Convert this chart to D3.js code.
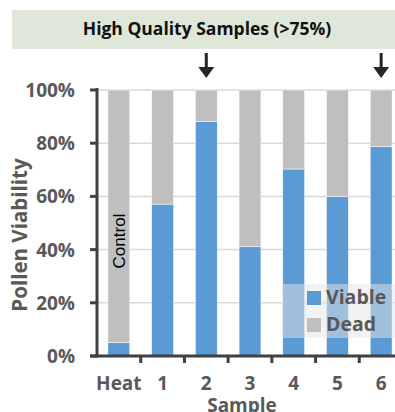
<!DOCTYPE html>
<html>
<head>
  <meta charset="UTF-8">
  <style>
body {
    margin: 0;
    padding: 0;
    background-color: white;
}
svg {
    display: block;
}
  </style>
</head>
<body>
<svg></svg>

<script src="https://d3js.org/d3.v7.min.js"></script>
<script>

let width = 395, height = 412;

// chart data
const samples = ["Heat", "1", "2", "3", "4", "5", "6"];
const viable = [0.05, 0.571, 0.881, 0.411, 0.703, 0.599, 0.787];
const dead = [0.95, 0.429, 0.119, 0.589, 0.297, 0.401, 0.213];
const yTicks = [0, 0.2, 0.4, 0.6, 0.8, 1.0];
const highQuality = ["2", "6"];
const legendItems = ["Viable", "Dead"];

const blue = "#5b9bd5", grey = "#bfbfbf", textGrey = "#595959", axisDark = "#404040";

let svg = d3.select("svg")
    .attr("width", width)
    .attr("height", height);

let x = d3.scaleBand()
    .domain(samples)
    .range([97, 403])
    .paddingInner(0.5)
    .paddingOuter(0.25);

let y = d3.scaleLinear()
    .domain([0, 1])
    .range([356, 90]);

// title banner
svg.append("rect")
    .attr("x", 12)
    .attr("y", 10)
    .attr("width", width)
    .attr("height", 39)
    .attr("fill", "#dfe8d8");

svg.append("text")
    .attr("x", 207)
    .attr("y", 35)
    .attr("text-anchor", "middle")
    .attr("font-family", "Open Sans")
    .attr("font-weight", "bold")
    .attr("font-size", "17.5px")
    .attr("fill", "#111")
    .text("High Quality Samples (>75%)");

// gridlines
svg.append("g")
  .selectAll("line")
  .data(yTicks.slice(1))
  .enter()
  .append("line")
  .attr("x1", 97)
  .attr("x2", width)
  .attr("y1", d => y(d))
  .attr("y2", d => y(d))
  .attr("stroke", "#d9d9d9")
  .attr("stroke-width", 1.5);

// stacked bars
let stacked = samples.map((s, i) => ({ name: s, viable: viable[i], dead: dead[i] }));

let bars = svg.append("g");

bars.selectAll(".viable")
  .data(stacked)
  .enter()
  .append("rect")
  .attr("class", "viable")
  .attr("x", d => x(d.name))
  .attr("width", x.bandwidth())
  .attr("y", d => y(d.viable))
  .attr("height", d => y(0) - y(d.viable))
  .attr("fill", blue)
  .attr("stroke", "white")
  .attr("stroke-width", 0.5);

bars.selectAll(".dead")
  .data(stacked)
  .enter()
  .append("rect")
  .attr("class", "dead")
  .attr("x", d => x(d.name))
  .attr("width", x.bandwidth())
  .attr("y", d => y(d.viable + d.dead))
  .attr("height", d => y(d.viable) - y(d.viable + d.dead))
  .attr("fill", grey)
  .attr("stroke", "white")
  .attr("stroke-width", 0.5);

// "Control" note inside the heat bar
svg.append("text")
    .attr("transform", `translate(${x("Heat") + x.bandwidth() / 2 + 6}, 241) rotate(-90)`)
    .attr("text-anchor", "middle")
    .attr("font-family", "Liberation Sans")
    .attr("font-size", "17px")
    .attr("fill", "black")
    .text("Control");

// axes
svg.append("line")
    .attr("x1", 97).attr("x2", 97)
    .attr("y1", y(1) - 2).attr("y2", y(0) + 1.5)
    .attr("stroke", axisDark)
    .attr("stroke-width", 3);

svg.append("line")
    .attr("x1", 90).attr("x2", width)
    .attr("y1", y(0)).attr("y2", y(0))
    .attr("stroke", axisDark)
    .attr("stroke-width", 3);

// y ticks
svg.append("g")
  .selectAll("line")
  .data(yTicks)
  .enter()
  .append("line")
  .attr("x1", 90)
  .attr("x2", 97)
  .attr("y1", d => y(d))
  .attr("y2", d => y(d))
  .attr("stroke", axisDark)
  .attr("stroke-width", 3);

svg.append("g")
  .selectAll("text")
  .data(yTicks)
  .enter()
  .append("text")
  .attr("x", 75)
  .attr("y", d => y(d) + 7)
  .attr("text-anchor", "end")
  .attr("font-family", "Open Sans")
  .attr("font-weight", "bold")
  .attr("font-size", "19px")
  .attr("fill", textGrey)
  .text(d => Math.round(d * 100) + "%");

// x ticks between categories
svg.append("g")
  .selectAll("line")
  .data(samples.slice(1))
  .enter()
  .append("line")
  .attr("x1", d => x(d) - x.step() * x.paddingInner() / 2)
  .attr("x2", d => x(d) - x.step() * x.paddingInner() / 2)
  .attr("y1", y(0))
  .attr("y2", y(0) + 7)
  .attr("stroke", axisDark)
  .attr("stroke-width", 3);

svg.append("g")
  .selectAll("text")
  .data(samples)
  .enter()
  .append("text")
  .attr("x", d => x(d) + x.bandwidth() / 2)
  .attr("y", 390)
  .attr("text-anchor", "middle")
  .attr("font-family", "Open Sans")
  .attr("font-weight", "bold")
  .attr("font-size", "19px")
  .attr("fill", textGrey)
  .text(d => d);

// axis titles
svg.append("text")
    .attr("x", 242)
    .attr("y", 412)
    .attr("text-anchor", "middle")
    .attr("font-family", "Open Sans")
    .attr("font-weight", "bold")
    .attr("font-size", "19px")
    .attr("fill", textGrey)
    .text("Sample");

svg.append("text")
    .attr("transform", "translate(27, 235) rotate(-90)")
    .attr("text-anchor", "middle")
    .attr("font-family", "Open Sans")
    .attr("font-weight", "bold")
    .attr("font-size", "20.5px")
    .attr("fill", textGrey)
    .text("Pollen Viability");

// arrows over the high quality samples
let arrows = svg.append("g")
  .selectAll("g")
  .data(highQuality)
  .enter()
  .append("g")
  .attr("transform", d => `translate(${x(d) + x.bandwidth() / 2}, 0)`);

arrows.append("line")
  .attr("x1", 0).attr("x2", 0)
  .attr("y1", 53).attr("y2", 70)
  .attr("stroke", "#262626")
  .attr("stroke-width", 3);

arrows.append("path")
  .attr("d", "M-8,67 L8,67 L0,78 Z")
  .attr("fill", "#262626");

// legend
let legend = svg.append("g");

legend.append("rect")
    .attr("x", 282)
    .attr("y", 284)
    .attr("width", 120)
    .attr("height", 54)
    .attr("fill", "#e6e6e6")
    .attr("opacity", 0.5);

legend.selectAll(".key")
  .data(legendItems)
  .enter()
  .append("rect")
  .attr("class", "key")
  .attr("x", 307)
  .attr("y", (d, i) => 291 + i * 27)
  .attr("width", 14)
  .attr("height", 14)
  .attr("fill", (d, i) => i == 0 ? blue : grey);

legend.selectAll("text")
  .data(legendItems)
  .enter()
  .append("text")
  .attr("x", 326)
  .attr("y", (d, i) => 304 + i * 27)
  .attr("font-family", "Open Sans")
  .attr("font-weight", "bold")
  .attr("font-size", "19.5px")
  .attr("fill", textGrey)
  .text(d => d);

</script>
</body>
</html>
